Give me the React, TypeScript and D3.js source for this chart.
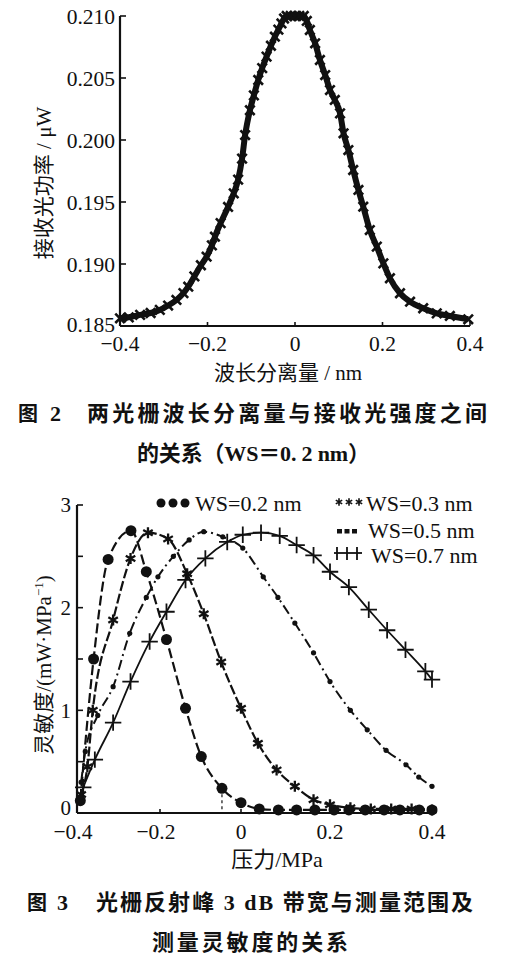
import React from 'react';
import * as d3 from 'd3';

// ---------- Figure 2 data ----------
const fig2XTicks = [-0.4, -0.2, 0, 0.2, 0.4];
const fig2YTicks = [0.185, 0.19, 0.195, 0.2, 0.205, 0.21];
const fig2Points: [number, number][] = [
  [-0.4, 0.18562], [-0.38, 0.1857], [-0.354, 0.1859], [-0.33, 0.18605], [-0.309, 0.1863],
  [-0.29, 0.18665], [-0.271, 0.1871], [-0.255, 0.18765], [-0.244, 0.18817], [-0.23, 0.189],
  [-0.215, 0.1899], [-0.202, 0.19059], [-0.19, 0.1915], [-0.183, 0.1922], [-0.17, 0.1933],
  [-0.153, 0.1946], [-0.14, 0.1957], [-0.13, 0.1968], [-0.121, 0.1985], [-0.114, 0.2004],
  [-0.103, 0.2024], [-0.094, 0.2036], [-0.084, 0.20484], [-0.075, 0.2058], [-0.065, 0.20672],
  [-0.055, 0.2076], [-0.046, 0.20833], [-0.038, 0.2089], [-0.031, 0.2094], [-0.025, 0.2098],
  [-0.019, 0.21], [-0.01, 0.21], [0, 0.21], [0.01, 0.21], [0.02, 0.21],
  [0.027, 0.2096], [0.034, 0.20887], [0.046, 0.2078], [0.057, 0.20645], [0.069, 0.20524],
  [0.08, 0.20403], [0.091, 0.20323], [0.103, 0.20215], [0.111, 0.20054], [0.122, 0.19919],
  [0.133, 0.19758], [0.145, 0.19597], [0.156, 0.19462], [0.171, 0.19274], [0.187, 0.1914],
  [0.202, 0.19005], [0.217, 0.18885], [0.24, 0.18764], [0.263, 0.18696], [0.293, 0.18643],
  [0.324, 0.18602], [0.354, 0.18581], [0.396, 0.18554],
];

// ---------- Figure 3 data ----------
const fig3XTicks = [-0.4, -0.2, 0, 0.2, 0.4];
const fig3YLabels = [0, 1, 2, 3];
const fig3YTicks = [0, 0.5, 1, 1.5, 2, 2.5, 3];
const ws02: [number, number][] = [
  [-0.392, 0.12], [-0.36, 1.5], [-0.325, 2.47], [-0.27, 2.75], [-0.233, 2.35], [-0.184, 1.69],
  [-0.137, 1.02], [-0.098, 0.55], [-0.047, 0.24], [0, 0.1], [0.041, 0.04], [0.084, 0.03],
  [0.125, 0.03], [0.166, 0.03], [0.208, 0.03], [0.237, 0.03], [0.269, 0.03], [0.306, 0.03],
  [0.337, 0.03], [0.375, 0.03], [0.4, 0.03],
];
const ws03: [number, number][] = [
  [-0.39, 0.18], [-0.375, 0.45], [-0.362, 1.0], [-0.313, 1.88], [-0.271, 2.48], [-0.229, 2.73],
  [-0.18, 2.67], [-0.133, 2.33], [-0.092, 1.94], [-0.049, 1.47], [0, 1.02], [0.038, 0.68],
  [0.08, 0.42], [0.121, 0.26], [0.163, 0.13], [0.2, 0.08], [0.24, 0.05], [0.28, 0.04],
  [0.32, 0.04], [0.36, 0.04], [0.4, 0.03],
];
const ws05: [number, number][] = [
  [-0.39, 0.3], [-0.38, 0.6], [-0.35, 0.95], [-0.313, 1.23], [-0.273, 1.75], [-0.233, 2.1],
  [-0.205, 2.3], [-0.167, 2.5], [-0.128, 2.66], [-0.092, 2.74], [-0.045, 2.69], [0.004, 2.58],
  [0.05, 2.3], [0.083, 2.1], [0.121, 1.85], [0.163, 1.56], [0.2, 1.28], [0.24, 1.0],
  [0.273, 0.81], [0.31, 0.61], [0.349, 0.47], [0.374, 0.35], [0.4, 0.26],
];
const ws07: [number, number][] = [
  [-0.385, 0.25], [-0.357, 0.52], [-0.313, 0.88], [-0.271, 1.28], [-0.225, 1.67], [-0.184, 1.96],
  [-0.137, 2.27], [-0.088, 2.48], [-0.034, 2.64], [0.004, 2.71], [0.045, 2.73], [0.087, 2.7],
  [0.125, 2.61], [0.163, 2.51], [0.2, 2.35], [0.237, 2.2], [0.276, 1.98], [0.312, 1.78],
  [0.348, 1.59], [0.387, 1.38], [0.4, 1.3],
];
const legendLabels = ['WS=0.2 nm', 'WS=0.3 nm', 'WS=0.5 nm', 'WS=0.7 nm'];

const SERIF = '"Liberation Serif", "Times New Roman", serif';
const MIX = '"Liberation Serif", "Noto Sans CJK SC", serif';
const HEI = '"Noto Sans CJK SC", sans-serif';
const fmtTick = (v: number) => (v < 0 ? '\u2212' : '') + (v === 0 ? '0' : Math.abs(v).toString());

export default function App() {
  // Figure 2 scales
  const x2 = d3.scaleLinear().domain([-0.4, 0.4]).range([120, 470]);
  const y2 = d3.scaleLinear().domain([0.185, 0.21]).range([326, 16]);
  const line2 = d3.line<[number, number]>().x(d => x2(d[0])).y(d => y2(d[1])).curve(d3.curveMonotoneX);
  const timesPath = d3.symbol().type(d3.symbolTimes).size(60)() as string;

  // Figure 3 scales
  const x3 = d3.scaleLinear().domain([-0.4, -0.2, 0, 0.2, 0.4]).range([77, 160, 241, 330, 432]);
  const y3 = d3.scaleLinear().domain([0, 3]).range([813, 505]);
  const line3 = d3.line<[number, number]>().x(d => x3(d[0])).y(d => y3(d[1])).curve(d3.curveMonotoneX);
  const asterisk = d3.symbol().type(d3.symbolAsterisk).size(85)() as string;
  const asteriskSmall = d3.symbol().type(d3.symbolAsterisk).size(38)() as string;
  const plus = d3.symbol().type(d3.symbolPlus).size(90)() as string;

  const dropPt = ws02[8];

  return (
    <div style={{ position: 'absolute', left: 0, top: 0, background: '#fff' }}>
      <svg width={511} height={959} style={{ display: 'block', background: '#fff' }}>
        {/* ================= Figure 2 ================= */}
        <g>
          <line x1={120} x2={120} y1={y2(0.21)} y2={326} stroke="#111" strokeWidth={2.2} />
          <line x1={120} x2={470} y1={326} y2={326} stroke="#111" strokeWidth={2.2} />
          {fig2YTicks.map(t => (
            <g key={'y2' + t}>
              <line x1={120} x2={126} y1={y2(t)} y2={y2(t)} stroke="#111" strokeWidth={1.6} />
              <text x={115} y={y2(t) - (t === 0.185 ? 2 : 0)} dy="0.35em" textAnchor="end" fontFamily={SERIF} fontSize={21.5} fill="#111">
                {t.toFixed(3)}
              </text>
            </g>
          ))}
          {fig2XTicks.map(t => (
            <g key={'x2' + t}>
              <line x1={x2(t)} x2={x2(t)} y1={326} y2={322} stroke="#111" strokeWidth={1.6} />
              <text x={x2(t)} y={351} textAnchor="middle" fontFamily={SERIF} fontSize={21.5} fill="#111">
                {fmtTick(t)}
              </text>
            </g>
          ))}
          <path d={line2(fig2Points) as string} fill="none" stroke="#111" strokeWidth={6} />
          {fig2Points.map((p, i) => (
            <path key={'m2' + i} d={timesPath} transform={`translate(${x2(p[0])},${y2(p[1])})`}
              fill="none" stroke="#111" strokeWidth={2.6} />
          ))}
          <text x={288} y={380} textAnchor="middle" fontFamily={MIX} fontSize={21} fill="#111">
            波长分离量 / nm
          </text>
          <text transform="translate(51,183) rotate(-90)" textAnchor="middle" fontFamily={MIX} fontSize={21} fill="#111">
            接收光功率 / μW
          </text>
          <text x={18} y={421} fontFamily={HEI} fontWeight={700} fontSize={20} fill="#111">图</text>
          <text x={50} y={421} fontFamily={SERIF} fontWeight={700} fontSize={22} fill="#111">2</text>
          <text x={87} y={421} fontFamily={HEI} fontWeight={700} fontSize={22} fill="#111"
            textLength={400} lengthAdjust="spacing">两光栅波长分离量与接收光强度之间</text>
          <text x={137} y={461} fontFamily={MIX} fontWeight={700} fontSize={22} fill="#111"
            textLength={233} lengthAdjust="spacing">的关系（WS＝0. 2 nm）</text>
        </g>

        {/* ================= Figure 3 ================= */}
        <g>
          <line x1={77} x2={77} y1={505} y2={813} stroke="#111" strokeWidth={2.2} />
          <line x1={77} x2={436} y1={813} y2={813} stroke="#111" strokeWidth={2.2} />
          {fig3YTicks.map(t => (
            <line key={'yt3' + t} x1={77} x2={83} y1={y3(t)} y2={y3(t)} stroke="#111" strokeWidth={1.6} />
          ))}
          {fig3YLabels.map(t => (
            <text key={'yl3' + t} x={71} y={y3(t) - (t === 0 ? 5 : 0)} dy="0.35em" textAnchor="end" fontFamily={SERIF} fontSize={21} fill="#111">
              {t}
            </text>
          ))}
          {fig3XTicks.map(t => (
            <g key={'x3' + t}>
              <line x1={x3(t)} x2={x3(t)} y1={813} y2={809} stroke="#111" strokeWidth={1.6} />
              <text x={x3(t) - (t < 0 ? 4 : 0)} y={839} textAnchor="middle" fontFamily={SERIF} fontSize={21.5} fill="#111">
                {fmtTick(t)}
              </text>
            </g>
          ))}

          {/* drop line */}
          <line x1={x3(dropPt[0])} x2={x3(dropPt[0])} y1={y3(dropPt[1])} y2={y3(0)} stroke="#111"
            strokeWidth={1.2} strokeDasharray="3 3" />

          {/* curves */}
          <path d={line3(ws02) as string} fill="none" stroke="#111" strokeWidth={2.2} strokeDasharray="10 4" />
          <path d={line3(ws03) as string} fill="none" stroke="#111" strokeWidth={2.2} strokeDasharray="10 3" />
          <path d={line3(ws05) as string} fill="none" stroke="#111" strokeWidth={2} strokeDasharray="10 4 2 4" />
          <path d={line3(ws07) as string} fill="none" stroke="#111" strokeWidth={1.8} />

          {ws02.map((p, i) => (
            <circle key={'c02' + i} cx={x3(p[0])} cy={y3(p[1])} r={5.5} fill="#111" />
          ))}
          {ws03.map((p, i) => (
            <path key={'c03' + i} d={asterisk} transform={`translate(${x3(p[0])},${y3(p[1])})`}
              fill="none" stroke="#111" strokeWidth={2.3} />
          ))}
          {ws05.map((p, i) => (
            <circle key={'c05' + i} cx={x3(p[0])} cy={y3(p[1])} r={2.6} fill="#111" />
          ))}
          {ws07.map((p, i) => (
            <path key={'c07' + i} d={plus} transform={`translate(${x3(p[0])},${y3(p[1])})`}
              fill="none" stroke="#111" strokeWidth={1.8} />
          ))}

          {/* legend */}
          {[161, 173, 185].map(cx => <circle key={'lg0' + cx} cx={cx} cy={503} r={4.5} fill="#111" />)}
          <text x={195} y={511} fontFamily={SERIF} fontSize={22} fill="#111">{legendLabels[0]}</text>
          {[339, 349, 359].map(cx => (
            <path key={'lg1' + cx} d={asteriskSmall} transform={`translate(${cx},502)`} fill="none" stroke="#111" strokeWidth={1.6} />
          ))}
          <text x={366} y={511} fontFamily={SERIF} fontSize={22} fill="#111">{legendLabels[1]}</text>
          {[337, 344.5, 352].map(rx => <rect key={'lg2' + rx} x={rx} y={529} width={5} height={4.5} fill="#111" />)}
          <text x={368} y={538} fontFamily={SERIF} fontSize={22} fill="#111">{legendLabels[2]}</text>
          <line x1={334} x2={362} y1={553} y2={553} stroke="#111" strokeWidth={1.8} />
          {[337, 347, 357].map(lx => (
            <line key={'lg3' + lx} x1={lx} x2={lx} y1={547} y2={560} stroke="#111" strokeWidth={1.8} />
          ))}
          <text x={371} y={563} fontFamily={SERIF} fontSize={22} fill="#111">{legendLabels[3]}</text>

          {/* axis titles */}
          <text x={277} y={867} textAnchor="middle" fontFamily={MIX} fontSize={22} fill="#111">压力/MPa</text>
          <text transform="translate(51,665) rotate(-90)" textAnchor="middle" fontFamily={MIX} fontSize={21} fill="#111">
            灵敏度/(mW·MPa<tspan fontSize={13} dy={-8}>−1</tspan><tspan dy={8}>)</tspan>
          </text>

          {/* caption */}
          <text x={27} y={910} fontFamily={HEI} fontWeight={700} fontSize={20} fill="#111">图</text>
          <text x={57} y={910} fontFamily={SERIF} fontWeight={700} fontSize={22} fill="#111">3</text>
          <text x={96} y={910} fontFamily={MIX} fontWeight={700} fontSize={22} fill="#111"
            textLength={377} lengthAdjust="spacing">光栅反射峰 3 dB 带宽与测量范围及</text>
          <text x={152} y={950} fontFamily={HEI} fontWeight={700} fontSize={22} fill="#111"
            textLength={196} lengthAdjust="spacing">测量灵敏度的关系</text>
        </g>
      </svg>
    </div>
  );
}
